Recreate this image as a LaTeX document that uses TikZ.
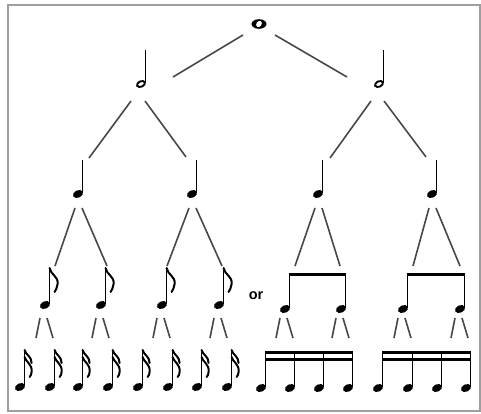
\documentclass[tikz,border=0pt]{standalone}
\usepackage{fontspec}
\setmainfont{Liberation Sans}
\tikzset{
  link/.style={line width=1.6pt, draw=black!72},
  notestem/.style={line width=1.6pt, draw=black},
  beam/.style={line width=3.5pt, draw=black},
  flag/.style={line width=2pt, draw=black, line cap=round},
  frame/.style={line width=1.6pt, draw=black!38},
  ortext/.style={font=\fontsize{14.5}{14.5}\selectfont\bfseries, inner sep=0pt},
}
\newcommand\nhead[2]{\fill[black,shift={(#1,#2)},rotate=25] (0,0) ellipse (5.3 and 3.7);}
\newcommand\hhead[2]{\draw[black,line width=1.9pt,shift={(#1,#2)},rotate=25] (0,0) ellipse (4.2 and 2.7);}
\begin{document}
\begin{tikzpicture}[x=1pt,y=-1pt]
\useasboundingbox (0,0) rectangle (481,414);
\draw[frame] (8,5) rectangle (480,411);

% whole note
\coordinate (w) at (259,24);
\fill[black,shift={(259,24)}] (0,0) ellipse (7.5 and 4.8);
\fill[white,shift={(259,24)},rotate=-35] (0,0) ellipse (2.6 and 3.4);

% half notes
\foreach \x in {141,379} {
  \hhead{\x}{84}
  \draw[notestem] (\x+4.3,83) -- (\x+4.3,50);
}

% quarter notes
\foreach \x in {78,192,318,432} {
  \nhead{\x}{194}
  \draw[notestem] (\x+4.6,193) -- (\x+4.6,160);
}

% flagged eighth notes
\foreach \x in {45,101,162,219} {
  \nhead{\x}{305}
  \draw[notestem] (\x+4.6,304) -- (\x+4.6,268);
  \draw[flag] (\x+4.6,268) .. controls (\x+5.6,275) and (\x+13.6,276) .. (\x+12.6,284)
              .. controls (\x+12.6,287) and (\x+10.6,290) .. (\x+9.6,292);
}

% beamed eighth notes
\foreach \a/\b in {285/341,403/460} {
  \nhead{\a}{309}
  \nhead{\b}{309}
  \draw[notestem] (\a+4.6,308) -- (\a+4.6,273);
  \draw[notestem] (\b+4.6,308) -- (\b+4.6,273);
  \draw[beam] (\a+3.8,274.7) -- (\b+5.4,274.7);
}

% or
\node[ortext] (or) at (256,296) {or};

% flagged sixteenth notes
\foreach \x in {20,50,78,108,138,168,197,227} {
  \nhead{\x}{387}
  \draw[notestem] (\x+4.6,386) -- (\x+4.6,350);
  \draw[flag] (\x+4.6,350) .. controls (\x+5.6,355) and (\x+11.6,356) .. (\x+11.6,363);
  \draw[flag] (\x+4.6,357) .. controls (\x+5.6,362) and (\x+12.6,364) .. (\x+11.6,372)
              .. controls (\x+11.6,374) and (\x+10.6,376) .. (\x+9.6,377);
}

% beamed sixteenth notes
\foreach \a/\b/\c/\d in {261/290/319/348,378/408/437/466} {
  \foreach \x in {\a,\b,\c,\d} {
    \nhead{\x}{388}
    \draw[notestem] (\x+4.6,387) -- (\x+4.6,351);
  }
  \draw[beam] (\a+3.8,352.7) -- (\d+5.4,352.7);
  \draw[beam] (\a+3.8,359.3) -- (\d+5.4,359.3);
}

% connectors: whole -> halves
\coordinate (w-l) at (243,35);  \coordinate (hl-t) at (173,77);
\coordinate (w-r) at (275,35);  \coordinate (hr-t) at (347,77);
\draw[link] (w-l) -- (hl-t);
\draw[link] (w-r) -- (hr-t);

% halves -> quarters
\coordinate (hl-bl) at (131,101); \coordinate (q1-t) at (89,158);
\coordinate (hl-br) at (145,101); \coordinate (q2-t) at (186,157);
\coordinate (hr-bl) at (371,101); \coordinate (q3-t) at (330,158);
\coordinate (hr-br) at (384,101); \coordinate (q4-t) at (426,157);
\draw[link] (hl-bl) -- (q1-t);
\draw[link] (hl-br) -- (q2-t);
\draw[link] (hr-bl) -- (q3-t);
\draw[link] (hr-br) -- (q4-t);

% quarters -> eighths
\foreach \x/\l/\r [count=\i] in {78/55/107,192/167/222,318/295/340,432/413/460} {
  \coordinate (q\i-bl) at (\x-3,208);
  \coordinate (q\i-br) at (\x+4,208);
  \coordinate (e\i-l) at (\l,266);
  \coordinate (e\i-r) at (\r,266);
  \draw[link] (q\i-bl) -- (e\i-l);
  \draw[link] (q\i-br) -- (e\i-r);
}

% eighths -> sixteenths
\foreach \x [count=\i] in {45,101,162,219,285,341,403,460} {
  \coordinate (e\i-bl) at (\x-5,318);
  \coordinate (e\i-br) at (\x+2,318);
  \coordinate (s\i-l) at (\x-9,338);
  \coordinate (s\i-r) at (\x+8,338);
  \draw[link] (e\i-bl) -- (s\i-l);
  \draw[link] (e\i-br) -- (s\i-r);
}
\end{tikzpicture}
\end{document}
